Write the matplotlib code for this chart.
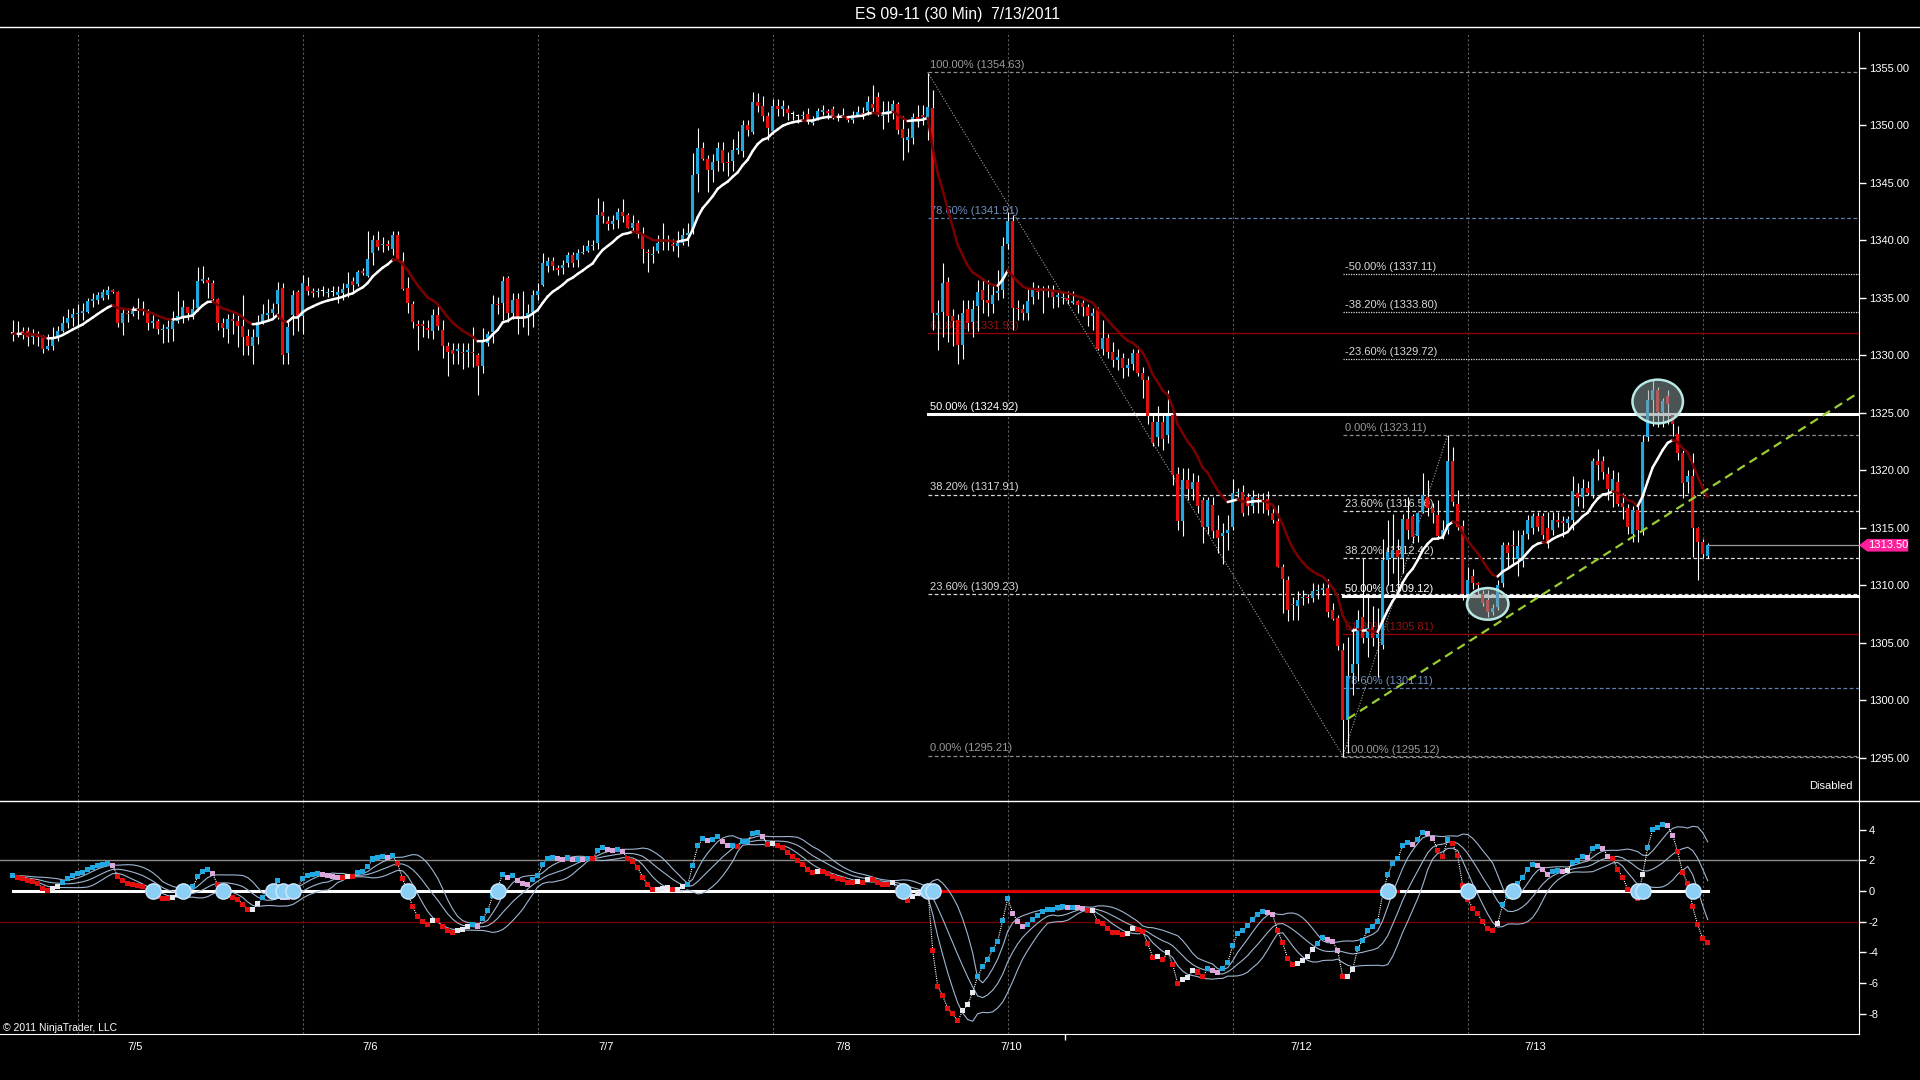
import numpy as np
import pandas as pd
import matplotlib
matplotlib.use("Agg")
import matplotlib.pyplot as plt
from matplotlib.collections import LineCollection
from matplotlib.patches import Ellipse, Polygon
from matplotlib.lines import Line2D

plt.rcParams['font.family'] = ['Liberation Sans', 'DejaVu Sans']

# ES 09-11, 30 min bars (7/5 .. 7/13/2011)
opens = [
    1331.9, 1331.9, 1332.1, 1332.1, 1331.6, 1331.9, 1331.6, 1330.6, 1330.8, 1331.6,
    1332.1, 1332.8, 1333.3, 1333.6, 1333.7, 1333.8, 1334.7, 1334.8, 1335.0, 1335.3,
    1335.7, 1335.5, 1332.8, 1333.7, 1333.6, 1333.9, 1334.0, 1333.9, 1332.8, 1333.0,
    1332.2, 1332.3, 1332.3, 1333.0, 1333.4, 1334.2, 1333.5, 1334.1, 1336.5, 1336.6,
    1336.3, 1334.9, 1332.8, 1332.3, 1333.2, 1333.0, 1332.6, 1331.7, 1330.8, 1331.6,
    1332.9, 1333.5, 1333.7, 1334.5, 1335.9, 1330.2, 1333.5, 1335.5, 1333.4, 1336.0,
    1335.6, 1335.5, 1335.6, 1335.4, 1335.5, 1335.3, 1335.4, 1335.9, 1336.5, 1336.2,
    1337.3, 1336.9, 1338.9, 1340.0, 1339.6, 1339.7, 1339.3, 1340.5, 1338.2, 1335.9,
    1334.5, 1332.7, 1332.7, 1332.4, 1332.1, 1333.5, 1332.2, 1330.8, 1330.5, 1330.4,
    1330.3, 1330.3, 1330.3, 1330.0, 1329.1, 1331.1, 1332.0, 1334.5, 1334.6, 1336.7,
    1333.7, 1334.9, 1333.4, 1333.3, 1333.8, 1335.3, 1336.1, 1337.8, 1338.2, 1337.6,
    1337.6, 1338.0, 1338.7, 1338.3, 1338.9, 1339.1, 1339.5, 1339.8, 1342.5, 1341.7,
    1341.4, 1341.8, 1342.5, 1342.2, 1341.1, 1341.5, 1340.6, 1339.0, 1338.7, 1339.1,
    1339.9, 1340.0, 1339.7, 1339.5, 1339.8, 1340.5, 1340.9, 1345.8, 1348.0, 1347.1,
    1346.1, 1346.9, 1347.9, 1346.8, 1346.9, 1347.9, 1347.8, 1350.0, 1349.4, 1352.0,
    1351.7, 1350.8, 1349.5, 1351.7, 1351.4, 1351.4, 1351.0, 1350.8, 1350.8, 1351.0,
    1350.2, 1350.6, 1351.2, 1351.2, 1351.4, 1350.8, 1350.8, 1350.6, 1350.5, 1350.9,
    1351.1, 1351.3, 1351.9, 1352.5, 1350.8, 1351.1, 1351.1, 1351.9, 1349.7, 1348.7,
    1348.9, 1350.7, 1350.9, 1350.5, 1351.5, 1333.5, 1333.8, 1336.4, 1333.4, 1333.1,
    1330.9, 1334.0, 1332.9, 1334.3, 1335.7, 1334.8, 1334.5, 1335.4, 1335.7, 1339.7,
    1341.7, 1334.1, 1334.0, 1333.7, 1335.1, 1335.6, 1335.6, 1335.7, 1335.7, 1335.1,
    1335.0, 1335.0, 1334.6, 1334.7, 1334.6, 1334.2, 1333.4, 1334.1, 1330.6, 1331.5,
    1330.3, 1329.6, 1329.8, 1328.9, 1329.3, 1330.2, 1328.5, 1327.9, 1324.2, 1322.9,
    1324.2, 1323.1, 1324.8, 1319.7, 1315.6, 1319.2, 1318.4, 1319.0, 1317.4, 1315.1,
    1317.0, 1314.8, 1314.3, 1314.6, 1315.1, 1318.0, 1318.1, 1317.7, 1316.9, 1317.6,
    1317.3, 1317.5, 1316.3, 1315.6, 1311.6, 1310.5, 1308.4, 1308.2, 1308.9, 1309.0,
    1308.9, 1309.5, 1309.6, 1309.8, 1307.9, 1307.2, 1304.4, 1298.3, 1302.4, 1303.2,
    1307.3, 1305.4, 1306.4, 1305.4, 1304.8, 1312.2, 1312.4, 1313.1, 1312.4, 1315.8,
    1316.0, 1314.3, 1316.4, 1317.7, 1316.7, 1316.1, 1314.3, 1314.8, 1320.8, 1317.1,
    1315.2, 1309.3, 1310.8, 1310.2, 1309.3, 1308.7, 1307.7, 1308.1, 1310.2, 1313.5,
    1313.5, 1312.3, 1312.1, 1314.5, 1315.0, 1316.0, 1316.0, 1315.0, 1314.8, 1315.7,
    1315.6, 1315.4, 1315.7, 1318.0, 1317.7, 1318.5, 1317.9, 1320.8, 1320.8, 1319.7,
    1318.2, 1319.0, 1317.2, 1316.7, 1314.5, 1316.6, 1314.8, 1322.9, 1326.1, 1327.0,
    1325.1, 1326.5, 1324.8, 1323.2, 1321.5, 1319.0, 1319.5, 1315.0, 1313.8, 1312.6,
]
highs = [
    1333.1, 1333.0, 1332.5, 1332.5, 1332.3, 1332.1, 1331.8, 1331.9, 1332.5, 1332.6,
    1333.4, 1334.0, 1334.1, 1334.5, 1334.6, 1335.0, 1335.4, 1335.5, 1335.8, 1336.0,
    1335.8, 1335.6, 1334.1, 1334.1, 1334.3, 1335.0, 1334.7, 1334.0, 1333.5, 1333.2,
    1332.7, 1333.1, 1333.9, 1335.6, 1334.8, 1334.2, 1334.9, 1337.7, 1337.8, 1336.8,
    1336.6, 1335.0, 1333.3, 1333.6, 1333.7, 1333.5, 1335.3, 1332.3, 1332.3, 1333.5,
    1334.5, 1334.9, 1334.6, 1336.4, 1336.3, 1333.1, 1335.7, 1335.7, 1337.0, 1336.8,
    1335.9, 1335.9, 1336.0, 1335.9, 1336.0, 1336.0, 1336.3, 1337.3, 1336.8, 1337.4,
    1337.6, 1340.8, 1340.5, 1340.8, 1340.3, 1340.0, 1340.8, 1340.8, 1339.0, 1336.8,
    1334.7, 1333.1, 1333.1, 1333.1, 1334.0, 1334.5, 1333.1, 1331.2, 1331.1, 1331.1,
    1331.1, 1331.1, 1332.5, 1330.2, 1332.4, 1332.1, 1335.3, 1335.1, 1336.9, 1336.9,
    1335.4, 1335.4, 1335.6, 1334.5, 1335.7, 1336.3, 1338.9, 1338.6, 1338.6, 1337.9,
    1338.3, 1339.0, 1339.0, 1339.3, 1339.6, 1340.0, 1340.0, 1343.7, 1343.4, 1342.1,
    1342.2, 1342.8, 1343.6, 1342.4, 1342.2, 1341.8, 1341.2, 1339.3, 1339.5, 1340.5,
    1341.5, 1340.5, 1340.1, 1340.8, 1341.1, 1341.5, 1347.6, 1349.8, 1348.6, 1347.4,
    1347.5, 1348.6, 1348.6, 1347.7, 1348.8, 1349.5, 1350.5, 1350.5, 1352.9, 1352.8,
    1352.6, 1351.2, 1352.3, 1352.3, 1352.2, 1351.8, 1351.3, 1351.0, 1351.3, 1351.5,
    1350.8, 1351.5, 1351.8, 1351.4, 1351.7, 1351.1, 1351.5, 1350.8, 1351.3, 1351.7,
    1351.6, 1352.6, 1353.5, 1352.9, 1352.1, 1352.1, 1352.2, 1352.0, 1350.8, 1349.8,
    1351.1, 1351.8, 1351.8, 1354.6, 1353.1, 1334.8, 1338.0, 1336.8, 1334.0, 1333.6,
    1334.8, 1334.8, 1334.8, 1336.6, 1336.7, 1336.6, 1336.0, 1337.4, 1340.3, 1342.5,
    1342.2, 1334.8, 1334.5, 1335.8, 1336.4, 1336.1, 1336.0, 1336.1, 1336.1, 1335.5,
    1335.6, 1335.6, 1335.6, 1334.8, 1334.8, 1334.5, 1334.1, 1334.2, 1333.1, 1331.9,
    1331.2, 1330.6, 1330.2, 1329.8, 1330.6, 1330.8, 1329.0, 1328.2, 1324.9, 1325.6,
    1324.9, 1327.0, 1324.9, 1320.3, 1320.2, 1320.2, 1319.8, 1319.6, 1317.7, 1317.7,
    1317.7, 1316.1, 1315.4, 1316.1, 1319.3, 1318.5, 1318.7, 1318.0, 1318.3, 1318.0,
    1318.0, 1318.2, 1317.1, 1317.0, 1311.9, 1310.8, 1309.0, 1309.5, 1309.6, 1309.3,
    1310.2, 1310.1, 1310.2, 1310.6, 1308.5, 1307.4, 1305.0, 1305.5, 1306.3, 1307.9,
    1312.4, 1309.3, 1308.2, 1308.0, 1314.0, 1315.7, 1316.2, 1314.0, 1316.2, 1317.7,
    1316.2, 1316.4, 1319.8, 1319.2, 1317.2, 1317.4, 1315.7, 1323.1, 1322.0, 1318.3,
    1315.7, 1311.6, 1311.4, 1310.3, 1309.6, 1309.6, 1308.4, 1310.5, 1313.8, 1313.8,
    1314.8, 1314.8, 1314.8, 1316.1, 1316.3, 1316.4, 1316.3, 1316.4, 1316.4, 1316.4,
    1316.0, 1316.0, 1319.5, 1318.9, 1319.3, 1319.1, 1321.1, 1321.9, 1321.3, 1320.3,
    1320.0, 1319.9, 1318.0, 1317.1, 1316.9, 1317.1, 1323.1, 1327.0, 1327.9, 1327.3,
    1326.3, 1327.0, 1325.0, 1323.9, 1321.8, 1320.0, 1321.5, 1315.1, 1314.0, 1313.7,
]
lows = [
    1331.3, 1331.6, 1331.4, 1330.8, 1331.0, 1330.8, 1330.2, 1330.5, 1330.5, 1331.3,
    1332.0, 1332.4, 1332.6, 1332.5, 1333.1, 1333.7, 1334.2, 1334.5, 1334.8, 1334.9,
    1335.4, 1332.5, 1331.8, 1332.9, 1333.4, 1333.2, 1333.5, 1332.2, 1332.4, 1331.9,
    1331.1, 1331.2, 1331.3, 1332.8, 1332.8, 1333.1, 1333.2, 1333.9, 1336.3, 1335.0,
    1334.8, 1332.2, 1331.6, 1331.1, 1331.9, 1330.7, 1330.0, 1330.0, 1329.3, 1331.0,
    1332.7, 1333.0, 1333.3, 1333.2, 1329.3, 1329.3, 1331.8, 1332.1, 1331.9, 1335.3,
    1335.1, 1335.1, 1335.2, 1335.1, 1335.2, 1334.6, 1334.8, 1335.1, 1335.4, 1336.0,
    1337.0, 1336.8, 1337.9, 1339.2, 1339.0, 1339.2, 1338.7, 1338.2, 1335.7, 1333.7,
    1332.4, 1330.5, 1331.6, 1331.5, 1331.4, 1332.2, 1329.8, 1328.2, 1329.3, 1329.3,
    1328.8, 1329.0, 1329.0, 1326.6, 1328.5, 1330.8, 1331.1, 1333.6, 1333.1, 1332.9,
    1333.2, 1331.9, 1332.5, 1331.8, 1332.5, 1334.8, 1336.0, 1337.3, 1337.4, 1337.0,
    1337.1, 1337.7, 1337.7, 1337.7, 1338.8, 1339.0, 1339.2, 1339.3, 1341.5, 1340.9,
    1341.0, 1341.1, 1341.6, 1341.1, 1340.8, 1340.2, 1338.0, 1337.3, 1338.0, 1338.9,
    1339.2, 1339.2, 1339.1, 1338.6, 1339.6, 1339.5, 1340.6, 1344.2, 1347.0, 1344.2,
    1345.1, 1346.0, 1346.0, 1345.6, 1346.0, 1347.5, 1347.3, 1349.1, 1349.3, 1351.2,
    1350.4, 1348.7, 1349.3, 1350.8, 1350.8, 1350.5, 1350.5, 1350.2, 1350.5, 1350.1,
    1350.0, 1350.5, 1350.9, 1350.6, 1350.6, 1350.4, 1350.8, 1350.3, 1350.2, 1350.9,
    1350.6, 1350.9, 1351.2, 1350.8, 1349.7, 1350.3, 1350.6, 1349.3, 1347.0, 1347.7,
    1348.4, 1349.9, 1350.0, 1348.7, 1332.2, 1330.5, 1331.6, 1331.2, 1330.8, 1329.3,
    1329.7, 1332.1, 1331.6, 1332.1, 1333.7, 1333.4, 1333.7, 1334.8, 1335.0, 1339.3,
    1332.2, 1333.1, 1333.1, 1333.1, 1334.5, 1334.9, 1333.7, 1335.1, 1334.1, 1334.2,
    1334.5, 1334.5, 1334.5, 1333.7, 1333.4, 1332.6, 1332.2, 1330.5, 1330.0, 1329.8,
    1329.0, 1328.7, 1328.0, 1328.2, 1328.7, 1328.2, 1326.3, 1324.0, 1322.1, 1322.1,
    1321.8, 1322.4, 1318.7, 1314.8, 1314.3, 1317.4, 1317.4, 1316.3, 1313.7, 1314.5,
    1314.1, 1312.8, 1311.9, 1313.1, 1314.8, 1317.7, 1316.0, 1316.1, 1316.3, 1316.3,
    1316.3, 1316.1, 1315.4, 1311.6, 1307.6, 1306.9, 1307.0, 1307.0, 1308.3, 1308.5,
    1308.6, 1308.8, 1309.2, 1307.3, 1307.0, 1304.4, 1295.1, 1295.4, 1300.5, 1301.7,
    1305.0, 1303.8, 1304.7, 1302.0, 1304.5, 1310.0, 1311.1, 1309.5, 1311.1, 1314.0,
    1313.7, 1313.8, 1316.3, 1316.0, 1315.4, 1314.0, 1314.0, 1314.5, 1316.9, 1314.8,
    1308.7, 1308.9, 1309.7, 1309.2, 1308.2, 1307.3, 1307.4, 1307.9, 1309.9, 1311.6,
    1311.9, 1310.8, 1311.6, 1314.0, 1314.5, 1314.7, 1314.0, 1313.3, 1314.4, 1315.1,
    1314.2, 1314.8, 1314.8, 1316.9, 1316.7, 1317.9, 1317.6, 1319.2, 1319.3, 1317.4,
    1316.8, 1316.9, 1315.8, 1314.5, 1313.8, 1313.8, 1314.4, 1322.6, 1323.9, 1323.8,
    1323.8, 1324.0, 1323.0, 1320.9, 1317.6, 1318.0, 1312.5, 1310.5, 1312.4, 1312.4,
]
closes = [
    1331.9, 1331.8, 1331.9, 1331.6, 1331.8, 1331.6, 1330.6, 1330.8, 1331.6, 1332.1,
    1332.8, 1333.3, 1333.6, 1333.7, 1333.9, 1334.7, 1334.9, 1335.3, 1335.5, 1335.7,
    1335.5, 1332.8, 1333.7, 1333.6, 1333.9, 1334.0, 1333.9, 1332.8, 1333.0, 1332.3,
    1332.3, 1332.5, 1333.0, 1333.4, 1334.2, 1333.7, 1334.0, 1336.5, 1336.6, 1336.3,
    1334.9, 1332.8, 1332.4, 1333.2, 1333.0, 1332.6, 1331.6, 1330.8, 1331.6, 1332.9,
    1333.6, 1333.7, 1334.0, 1335.7, 1330.0, 1332.5, 1335.3, 1333.4, 1336.3, 1335.6,
    1335.4, 1335.6, 1335.6, 1335.5, 1335.5, 1335.5, 1335.8, 1336.2, 1336.1, 1337.3,
    1337.2, 1338.4, 1340.0, 1339.4, 1339.7, 1339.5, 1340.5, 1338.3, 1335.8, 1334.6,
    1332.9, 1332.6, 1332.6, 1332.2, 1333.5, 1332.6, 1330.8, 1330.3, 1330.1, 1330.6,
    1330.2, 1330.5, 1330.2, 1329.1, 1331.3, 1331.9, 1334.5, 1334.4, 1336.5, 1333.7,
    1334.8, 1333.3, 1333.3, 1333.7, 1335.3, 1335.6, 1338.0, 1338.2, 1337.8, 1337.4,
    1337.9, 1338.7, 1338.0, 1338.9, 1339.0, 1339.5, 1339.6, 1342.2, 1342.1, 1341.4,
    1341.7, 1342.5, 1342.1, 1341.1, 1341.5, 1340.6, 1339.3, 1338.9, 1338.8, 1339.8,
    1340.0, 1339.9, 1339.5, 1339.8, 1340.5, 1340.6, 1345.7, 1348.0, 1347.1, 1346.1,
    1346.8, 1348.0, 1346.7, 1346.7, 1347.9, 1348.0, 1350.0, 1349.6, 1352.0, 1351.7,
    1350.8, 1349.8, 1351.7, 1351.4, 1351.7, 1351.1, 1351.0, 1350.8, 1350.9, 1350.3,
    1350.5, 1351.3, 1351.3, 1351.1, 1350.8, 1350.7, 1350.9, 1350.5, 1350.9, 1351.2,
    1351.0, 1352.0, 1351.5, 1350.9, 1351.0, 1351.2, 1351.9, 1349.6, 1348.9, 1349.0,
    1350.7, 1350.6, 1350.7, 1351.6, 1333.7, 1333.7, 1336.3, 1333.4, 1333.0, 1330.9,
    1333.7, 1332.8, 1334.0, 1335.5, 1334.8, 1334.6, 1335.3, 1335.6, 1339.5, 1341.7,
    1334.1, 1334.0, 1333.7, 1334.7, 1335.7, 1335.5, 1335.7, 1335.6, 1335.1, 1335.3,
    1335.1, 1334.8, 1334.7, 1334.4, 1334.2, 1333.4, 1333.7, 1330.6, 1331.5, 1330.3,
    1329.6, 1329.9, 1328.9, 1329.2, 1330.2, 1328.5, 1327.9, 1324.7, 1322.4, 1324.2,
    1322.7, 1324.7, 1319.6, 1315.6, 1319.2, 1318.4, 1319.0, 1316.9, 1315.1, 1317.4,
    1314.7, 1314.1, 1314.6, 1314.8, 1318.0, 1318.1, 1316.3, 1316.9, 1317.7, 1317.5,
    1317.4, 1316.6, 1315.7, 1311.6, 1310.6, 1307.9, 1308.3, 1308.7, 1309.0, 1308.9,
    1309.5, 1309.6, 1309.8, 1307.7, 1307.1, 1304.7, 1298.3, 1302.1, 1303.2, 1307.0,
    1305.4, 1306.3, 1305.4, 1305.8, 1312.2, 1312.9, 1313.1, 1312.5, 1315.8, 1314.8,
    1314.2, 1316.3, 1317.9, 1316.7, 1316.3, 1314.3, 1314.8, 1320.8, 1317.3, 1315.1,
    1309.3, 1310.5, 1310.2, 1310.0, 1308.5, 1307.7, 1308.0, 1310.0, 1313.5, 1312.8,
    1313.4, 1313.4, 1314.4, 1315.7, 1316.0, 1315.1, 1314.4, 1313.7, 1315.7, 1315.5,
    1315.4, 1315.8, 1318.2, 1317.6, 1318.5, 1318.0, 1320.8, 1320.5, 1319.9, 1318.4,
    1319.3, 1317.1, 1316.8, 1315.1, 1316.6, 1314.8, 1322.5, 1326.1, 1327.0, 1325.1,
    1326.0, 1325.8, 1324.0, 1321.5, 1318.9, 1319.5, 1315.0, 1313.8, 1312.7, 1313.5,
]

# session separators and date labels (bar index)
grid_bars = [13, 58, 105, 152, 199, 244, 291, 338]
date_pos = [24.5, 71.5, 118.7, 166, 199.7, 257.8, 304.5]
date_labels = ['7/5', '7/6', '7/7', '7/8', '7/10', '7/12', '7/13']
hidden_date_tick = 210.5

# Fibonacci drawings
fib1_bars = (183, 266)
fib1_prices = (1354.63, 1295.21)
fib1_levels = [1.0, 0.786, 0.618, 0.5, 0.382, 0.236, 0.0]
fib2_bars = (266, 287)
fib2_prices = (1295.12, 1323.11)
fib2_levels = [-0.5, -0.382, -0.236, 0.0, 0.236, 0.382, 0.5, 0.618, 0.786, 1.0]

trend_pts = ([267, 369.3], [1298.4, 1326.8])
circles = [(295, 1308.4, 8.3, 2.75), (329, 1326.0, 10.1, 3.8)]
last_price = 1313.50
zero_red_span = (184, 277)
osc_start = 1.0   # oscillator value at the first bar (history before the chart)

BG = "black"
CYAN = "#22a8e0"
RED = "#e41010"


def ema(vals, n, seed=None):
    a = 2.0 / (n + 1)
    out = [vals[0] if seed is None else seed]
    for v in vals[1:]:
        out.append(out[-1] + a * (v - out[-1]))
    return np.array(out)


def level_style(p):
    if p in (1.0, 0.0):
        return "#8c8c8c", (0, (3, 2)), 0.9, "#9a9a9a"
    if p == 0.786:
        return "#5f7fae", (0, (3, 2)), 0.9, "#6e8fc0"
    if p == 0.618:
        return "#8b0000", "-", 1.0, "#9a1010"
    if p == 0.5:
        return "#ffffff", "-", 2.2, "#ffffff"
    if p < 0:
        return "#d8d8d8", (0, (1, 1)), 0.9, "#d8d8d8"
    return "#d8d8d8", (0, (3, 2)), 0.9, "#d8d8d8"


o = np.array(opens)
h = np.array(highs)
l = np.array(lows)
c = np.array(closes)
x = np.arange(len(c))

fig = plt.figure(figsize=(19.2, 10.8), dpi=100)
fig.patch.set_facecolor(BG)

XL = (-2.54, 369.26)
ax = fig.add_axes([0, 1 - 801 / 1080, 1859 / 1920, (801 - 32) / 1080])
ax2 = fig.add_axes([0, 1 - 1034 / 1080, 1859 / 1920, (1034 - 801) / 1080])
for a in (ax, ax2):
    a.set_facecolor(BG)
    a.set_xlim(*XL)
    for s in ("top", "left", "bottom"):
        a.spines[s].set_visible(False)
    a.spines["right"].set_color("white")
    a.yaxis.tick_right()
    a.tick_params(axis="y", colors="white", labelsize=8, length=5, width=1, pad=2)
    for gb in grid_bars:
        a.axvline(gb, color="#5a5a5a", lw=0.8, ls=(0, (2, 2)), zorder=0)
ax2.spines["bottom"].set_visible(True)
ax2.spines["bottom"].set_color("white")

# ---- price panel
ax.set_ylim(1291.26, 1358.13)
ax.set_yticks(np.arange(1295, 1356, 5))
ax.set_yticklabels([f"{v:.2f}" for v in np.arange(1295, 1356, 5)])
ax.set_xticks([])

for (b0, b1), (p100, p0), levels in ((fib1_bars, fib1_prices, fib1_levels),
                                     (fib2_bars, fib2_prices, fib2_levels)):
    for p in levels:
        price = p0 + (p100 - p0) * p
        col, ls, lw, tcol = level_style(p)
        ax.plot([b0, XL[1]], [price, price], color=col, ls=ls, lw=lw, zorder=1)
        ax.annotate(f"{p * 100:.2f}% ({price + 1e-6:.2f})", xy=(b0, price),
                    xytext=(1.5, 1.5), textcoords="offset points",
                    ha="left", va="bottom", fontsize=8, color=tcol, zorder=2)
    ax.plot([b0, b1], [p100, p0], color="#a0a0a0", lw=0.8, ls=(0, (1, 1.5)), zorder=1)

# candles
ax.vlines(x, l, h, colors="white", lw=0.8, zorder=3)
body_col = np.where(c > o, CYAN, np.where(c < o, RED, "white"))
ax.bar(x, np.maximum(np.abs(c - o), 0.12), bottom=np.minimum(o, c), width=0.62,
       color=body_col, linewidth=0, zorder=4)

# colour-switching EMA
ma = ema(c, 12)
segs = [[(x[i - 1], ma[i - 1]), (x[i], ma[i])] for i in range(1, len(ma))]
ma_cols = ["white" if ma[i] >= ma[i - 1] else "#7a0000" for i in range(1, len(ma))]
ax.add_collection(LineCollection(segs, colors=ma_cols, linewidths=1.8, zorder=5,
                                 capstyle="round"))

# trend line and highlight circles
ax.plot(trend_pts[0], trend_pts[1], color="#9acd32", lw=1.6, ls=(0, (4, 2.5)), zorder=6)
for cx, cy, w, hh in circles:
    ax.add_patch(Ellipse((cx, cy), w, hh, facecolor="#8a9a9a", alpha=0.55,
                         edgecolor="none", zorder=6))
    ax.add_patch(Ellipse((cx, cy), w, hh, facecolor="none", edgecolor="#b8e8e4",
                         lw=1.8, zorder=7))

# last price line and marker
ax.plot([x[-1], XL[1]], [last_price, last_price], color="#9a9a9a", lw=0.9, zorder=2)
tr = ax.get_yaxis_transform()
ax.add_patch(Polygon([(1.0, last_price), (1.0045, last_price + 0.55),
                      (1.0265, last_price + 0.55), (1.0265, last_price - 0.55),
                      (1.0045, last_price - 0.55)], closed=True, transform=tr,
                     facecolor="#ff1f9a", edgecolor="none", clip_on=False, zorder=8))
ax.text(1.0048, last_price, f"{last_price:.2f}", transform=tr, ha="left", va="center",
        fontsize=8, color="white", clip_on=False, zorder=9)

ax.text(0.9965, 0.0195, "Disabled", transform=ax.transAxes, ha="right", va="center",
        fontsize=8, color="white")

# ---- oscillator panel
osc = ema(c, 5) - ema(c, 20, seed=c[0] - osc_start)
mid = pd.Series(osc).rolling(10, min_periods=1).mean().to_numpy()
sd = pd.Series(osc).rolling(10, min_periods=1).std().fillna(0).to_numpy()
up_band, lo_band = mid + 0.85 * sd, mid - 0.85 * sd

ax2.set_ylim(-9.32, 5.86)
ax2.set_yticks(np.arange(-8, 5, 2))
ax2.set_yticklabels([f"{v:d}" for v in np.arange(-8, 5, 2)])
ax2.axhline(2, color="#8a8a8a", lw=1, zorder=1)
ax2.axhline(-2, color="#6e0000", lw=1, zorder=1)
ax2.plot([x[0], x[-1]], [0, 0], color="white", lw=2.2, zorder=2)
ax2.plot(list(zero_red_span), [0, 0], color="#e00000", lw=2.2, zorder=2)

for band in (up_band, mid, lo_band):
    ax2.plot(x, band, color="#9fb6d0", lw=0.8, zorder=3)
ax2.plot(x, osc, color="white", lw=0.8, ls=(0, (1, 1)), zorder=4)

rising = np.r_[True, osc[1:] >= osc[:-1]]
above = osc >= mid
sq_cols = np.where(rising & above, CYAN,
                   np.where(rising, "#e8e8f0", np.where(~above, RED, "#dca8dc")))
ax2.scatter(x, osc, s=13, marker="s", c=sq_cols, linewidths=0, zorder=5)

cross = np.where(np.sign(osc[1:]) != np.sign(osc[:-1]))[0] + 1
ax2.plot(cross, np.zeros(len(cross)), "o", ms=11, mfc="#8ccff5", mec="#cce8ff",
         mew=1.0, zorder=6)

ax2.set_xticks(date_pos)
ax2.set_xticklabels(date_labels)
ax2.set_xticks([hidden_date_tick], minor=True)
ax2.tick_params(axis="x", which="major", colors="white", labelsize=8, length=0, pad=6)
ax2.tick_params(axis="x", which="minor", colors="white", length=4, width=1)

# frame lines, title, copyright
fig.add_artist(Line2D([0, 1], [1 - 27 / 1080] * 2, color="white", lw=1))
fig.add_artist(Line2D([0, 1], [1 - 801 / 1080] * 2, color="white", lw=1))
fig.text(0.4985, 1 - 15 / 1080, "ES 09-11 (30 Min)  7/13/2011", ha="center",
         va="center", fontsize=11.3, color="white")
fig.text(0.0015, 1 - 1028 / 1080, "\u00a9 2011 NinjaTrader, LLC", ha="left",
         va="center", fontsize=7.5, color="white")

fig.savefig("out.png", dpi=100, facecolor=BG)
